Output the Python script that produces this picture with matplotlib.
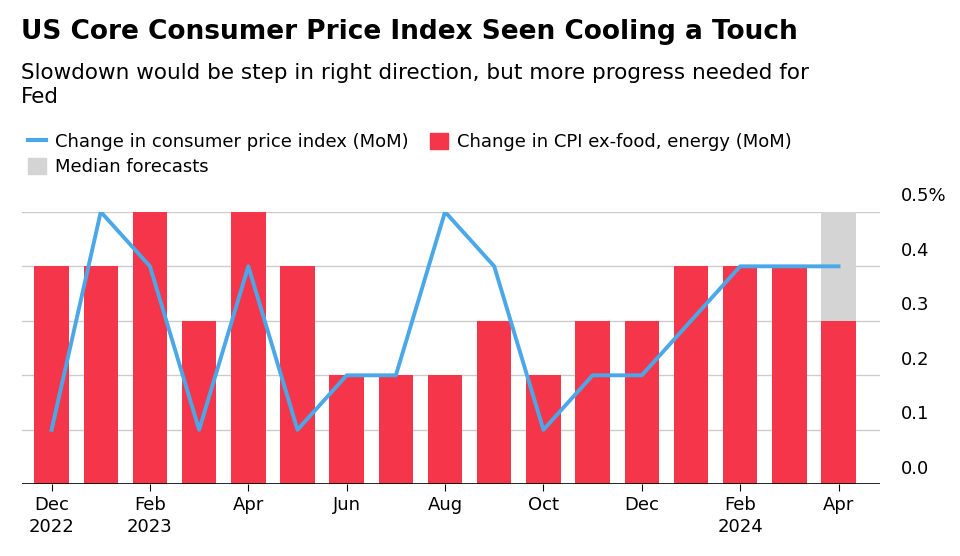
import matplotlib.pyplot as plt
from matplotlib.lines import Line2D
from matplotlib.patches import Patch

months = ['Dec', 'Jan', 'Feb', 'Mar', 'Apr', 'May', 'Jun', 'Jul', 'Aug',
          'Sep', 'Oct', 'Nov', 'Dec', 'Jan', 'Feb', 'Mar', 'Apr']
core = [0.4, 0.4, 0.5, 0.3, 0.5, 0.4, 0.2, 0.2, 0.2, 0.3, 0.2, 0.3, 0.3, 0.4, 0.4, 0.4, 0.3]
cpi = [0.1, 0.5, 0.4, 0.1, 0.4, 0.1, 0.2, 0.2, 0.5, 0.4, 0.1, 0.2, 0.2, 0.3, 0.4, 0.4, 0.4]
forecast_idx = 16
tick_pos = [0, 2, 4, 6, 8, 10, 12, 14, 16]
tick_labels = ['Dec\n2022', 'Feb\n2023', 'Apr', 'Jun', 'Aug', 'Oct', 'Dec', 'Feb\n2024', 'Apr']
yticks = [0.0, 0.1, 0.2, 0.3, 0.4, 0.5]

red = '#f5364a'
blue = '#4aa8e8'
grey = '#d4d4d4'

fig = plt.figure(figsize=(9.6, 5.56), dpi=100)
ax = fig.add_axes([0.023, 0.129, 0.894, 0.49])
x = list(range(len(months)))

ax.bar(forecast_idx, 0.5, width=0.7, color=grey, zorder=1)
ax.bar(x, core, width=0.7, color=red, zorder=2)
ax.plot(x, cpi, color=blue, lw=2.8, zorder=3)

ax.set_xlim(-0.6, 16.85)
ax.set_ylim(0, 0.5)
for v in yticks[1:]:
    ax.axhline(v, color='#cccccc', lw=1, zorder=0)
ax.axhline(0, color='black', lw=1.2, zorder=4)
for v in yticks:
    lab = f'{v:.1f}%' if v == 0.5 else f'{v:.1f}'
    ax.text(1.024, v + 0.012, lab, transform=ax.get_yaxis_transform(),
            fontsize=13, va='bottom', ha='left')
ax.set_yticks([])
ax.set_xticks(tick_pos)
ax.set_xticklabels(tick_labels, fontsize=13, linespacing=1.3)
ax.tick_params(axis='x', length=5, color='black')
for s in ax.spines.values():
    s.set_visible(False)

fig.text(0.022, 0.93, 'US Core Consumer Price Index Seen Cooling a Touch',
         fontsize=19, fontweight='bold', ha='left')
fig.text(0.022, 0.815, 'Slowdown would be step in right direction, but more progress needed for\nFed',
         fontsize=15.5, ha='left', linespacing=1.25)

handles = [Line2D([0], [0], color=blue, lw=3),
           Patch(color=red), Patch(color=grey)]
labels = ['Change in consumer price index (MoM)',
          'Change in CPI ex-food, energy (MoM)', 'Median forecasts']
fig.legend(handles[:2], labels[:2], loc='upper left', bbox_to_anchor=(0.012, 0.79),
           ncol=2, frameon=False, fontsize=13, handlelength=1.0, handleheight=1.0,
           columnspacing=1.2, handletextpad=0.5)
fig.legend(handles[2:], labels[2:], loc='upper left', bbox_to_anchor=(0.012, 0.745),
           frameon=False, fontsize=13, handlelength=1.0, handleheight=1.0,
           handletextpad=0.5)

fig.savefig('out.png')
